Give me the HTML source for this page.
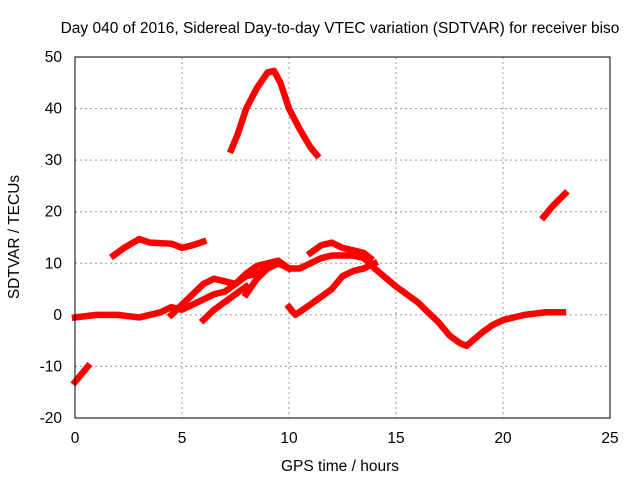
<!DOCTYPE html>
<html><head><meta charset="utf-8"><style>
body{margin:0;background:#fff}
svg text{font-family:"Liberation Sans",sans-serif;font-size:15.5px;fill:#000}
</style></head><body>
<svg width="640" height="480" id="c">
<rect width="640" height="480" fill="#fff"/>
<text x="340" y="33" text-anchor="middle">Day 040 of 2016, Sidereal Day-to-day VTEC variation (SDTVAR) for receiver biso</text>
<text x="340" y="471" text-anchor="middle">GPS time / hours</text>
<text transform="translate(19,237) rotate(-90)" text-anchor="middle">SDTVAR / TECUs</text>
<g id="grid"></g><g id="series"></g>
<rect x="75" y="57" width="535" height="361" fill="none" stroke="#000" stroke-width="1"/>
</svg>
<script>
const xTicks=[0,5,10,15,20,25];
const yTicks=[-20,-10,0,10,20,30,40,50];
const segPeak=[[7.3,32],[7.6,35],[8,40],[8.5,44],[9,47],[9.3,47.3],[9.6,45],[10,40],[10.5,36],[11,32.5],[11.3,31]];
const segEvening=[[21.9,19],[22.3,21],[22.9,23.5]];
const segMorning=[[1.8,11.5],[2.3,13],[3,14.7],[3.5,14],[4.5,13.8],[5,13],[5.5,13.5],[6,14.2]];
const segEarly=[[0,-13],[0.6,-10]];
const segMain=[[0,-0.5],[1,0],[2,0],[3,-0.5],[4,0.5],[4.5,1.5],[5,1],[5.5,2],[6,3],[6.5,4],[7,4.5],[7.5,6],[8,7.5],[8.5,8],[9,9],[9.5,10],[10,9],[10.5,9],[11,10],[11.5,11],[12,11.5],[13,11.5],[13.5,11],[14,9],[15,5.5],[16,2.5],[16.5,0.5],[17,-1.5],[17.5,-4],[18,-5.5],[18.3,-6],[19,-3.5],[19.5,-2],[20,-1],[21,0],[22,0.5],[22.8,0.5]];
const segUpper=[[4.5,0],[5,2],[5.5,4],[6,6],[6.5,7],[7,6.5],[7.5,6],[8,8],[8.5,9.5],[9,10],[9.5,10.5],[10,9]];
const segNoon=[[11,12],[11.5,13.5],[12,14],[12.5,13],[13.5,12],[13.8,11]];
const segRise=[[10,1.5],[10.3,0],[11,2],[12,5],[12.5,7.5],[13,8.5],[13.5,9],[14,10]];
const segI=[[6,-1],[6.5,1],[7,2.5],[7.5,4],[8,5.5]];
const segJ=[[8,4],[8.5,7],[9,9]];
const segments=[segPeak,segEvening,segMorning,segEarly,segMain,segUpper,segNoon,segRise,segI,segJ];
const X=h=>75+h*535/25, Y=v=>57+(50-v)*361/70;
const NS='http://www.w3.org/2000/svg';
const g=document.getElementById('grid'), s=document.getElementById('series');
function mk(tag,attrs,parent){const e=document.createElementNS(NS,tag);for(const k in attrs)e.setAttribute(k,attrs[k]);parent.appendChild(e);return e;}
xTicks.forEach(t=>{
 if(t>0&&t<25){const l=mk('line',{x1:X(t),x2:X(t),y1:57,y2:418,stroke:'#999','stroke-dasharray':'2,3'},g);
 
 }
 const tx=mk('text',{x:X(t),y:443,'text-anchor':'middle'},g);tx.textContent=t;
 
 
});
yTicks.forEach(t=>{
 if(t>-20&&t<50){const l=mk('line',{x1:75,x2:610,y1:Y(t),y2:Y(t),stroke:'#999','stroke-dasharray':'2,3'},g);
 
 }
 const tx=mk('text',{x:62,y:Y(t)+5,'text-anchor':'end'},g);tx.textContent=t;
 
 
});
segments.forEach(seg=>{
 const p=mk('polyline',{points:seg.map(d=>X(d[0])+','+Y(d[1])).join(' '),fill:'none',stroke:'#f00','stroke-width':6.5,'stroke-linejoin':'round','stroke-linecap':'square'},s);
 
 
});
</script>
</body></html>
